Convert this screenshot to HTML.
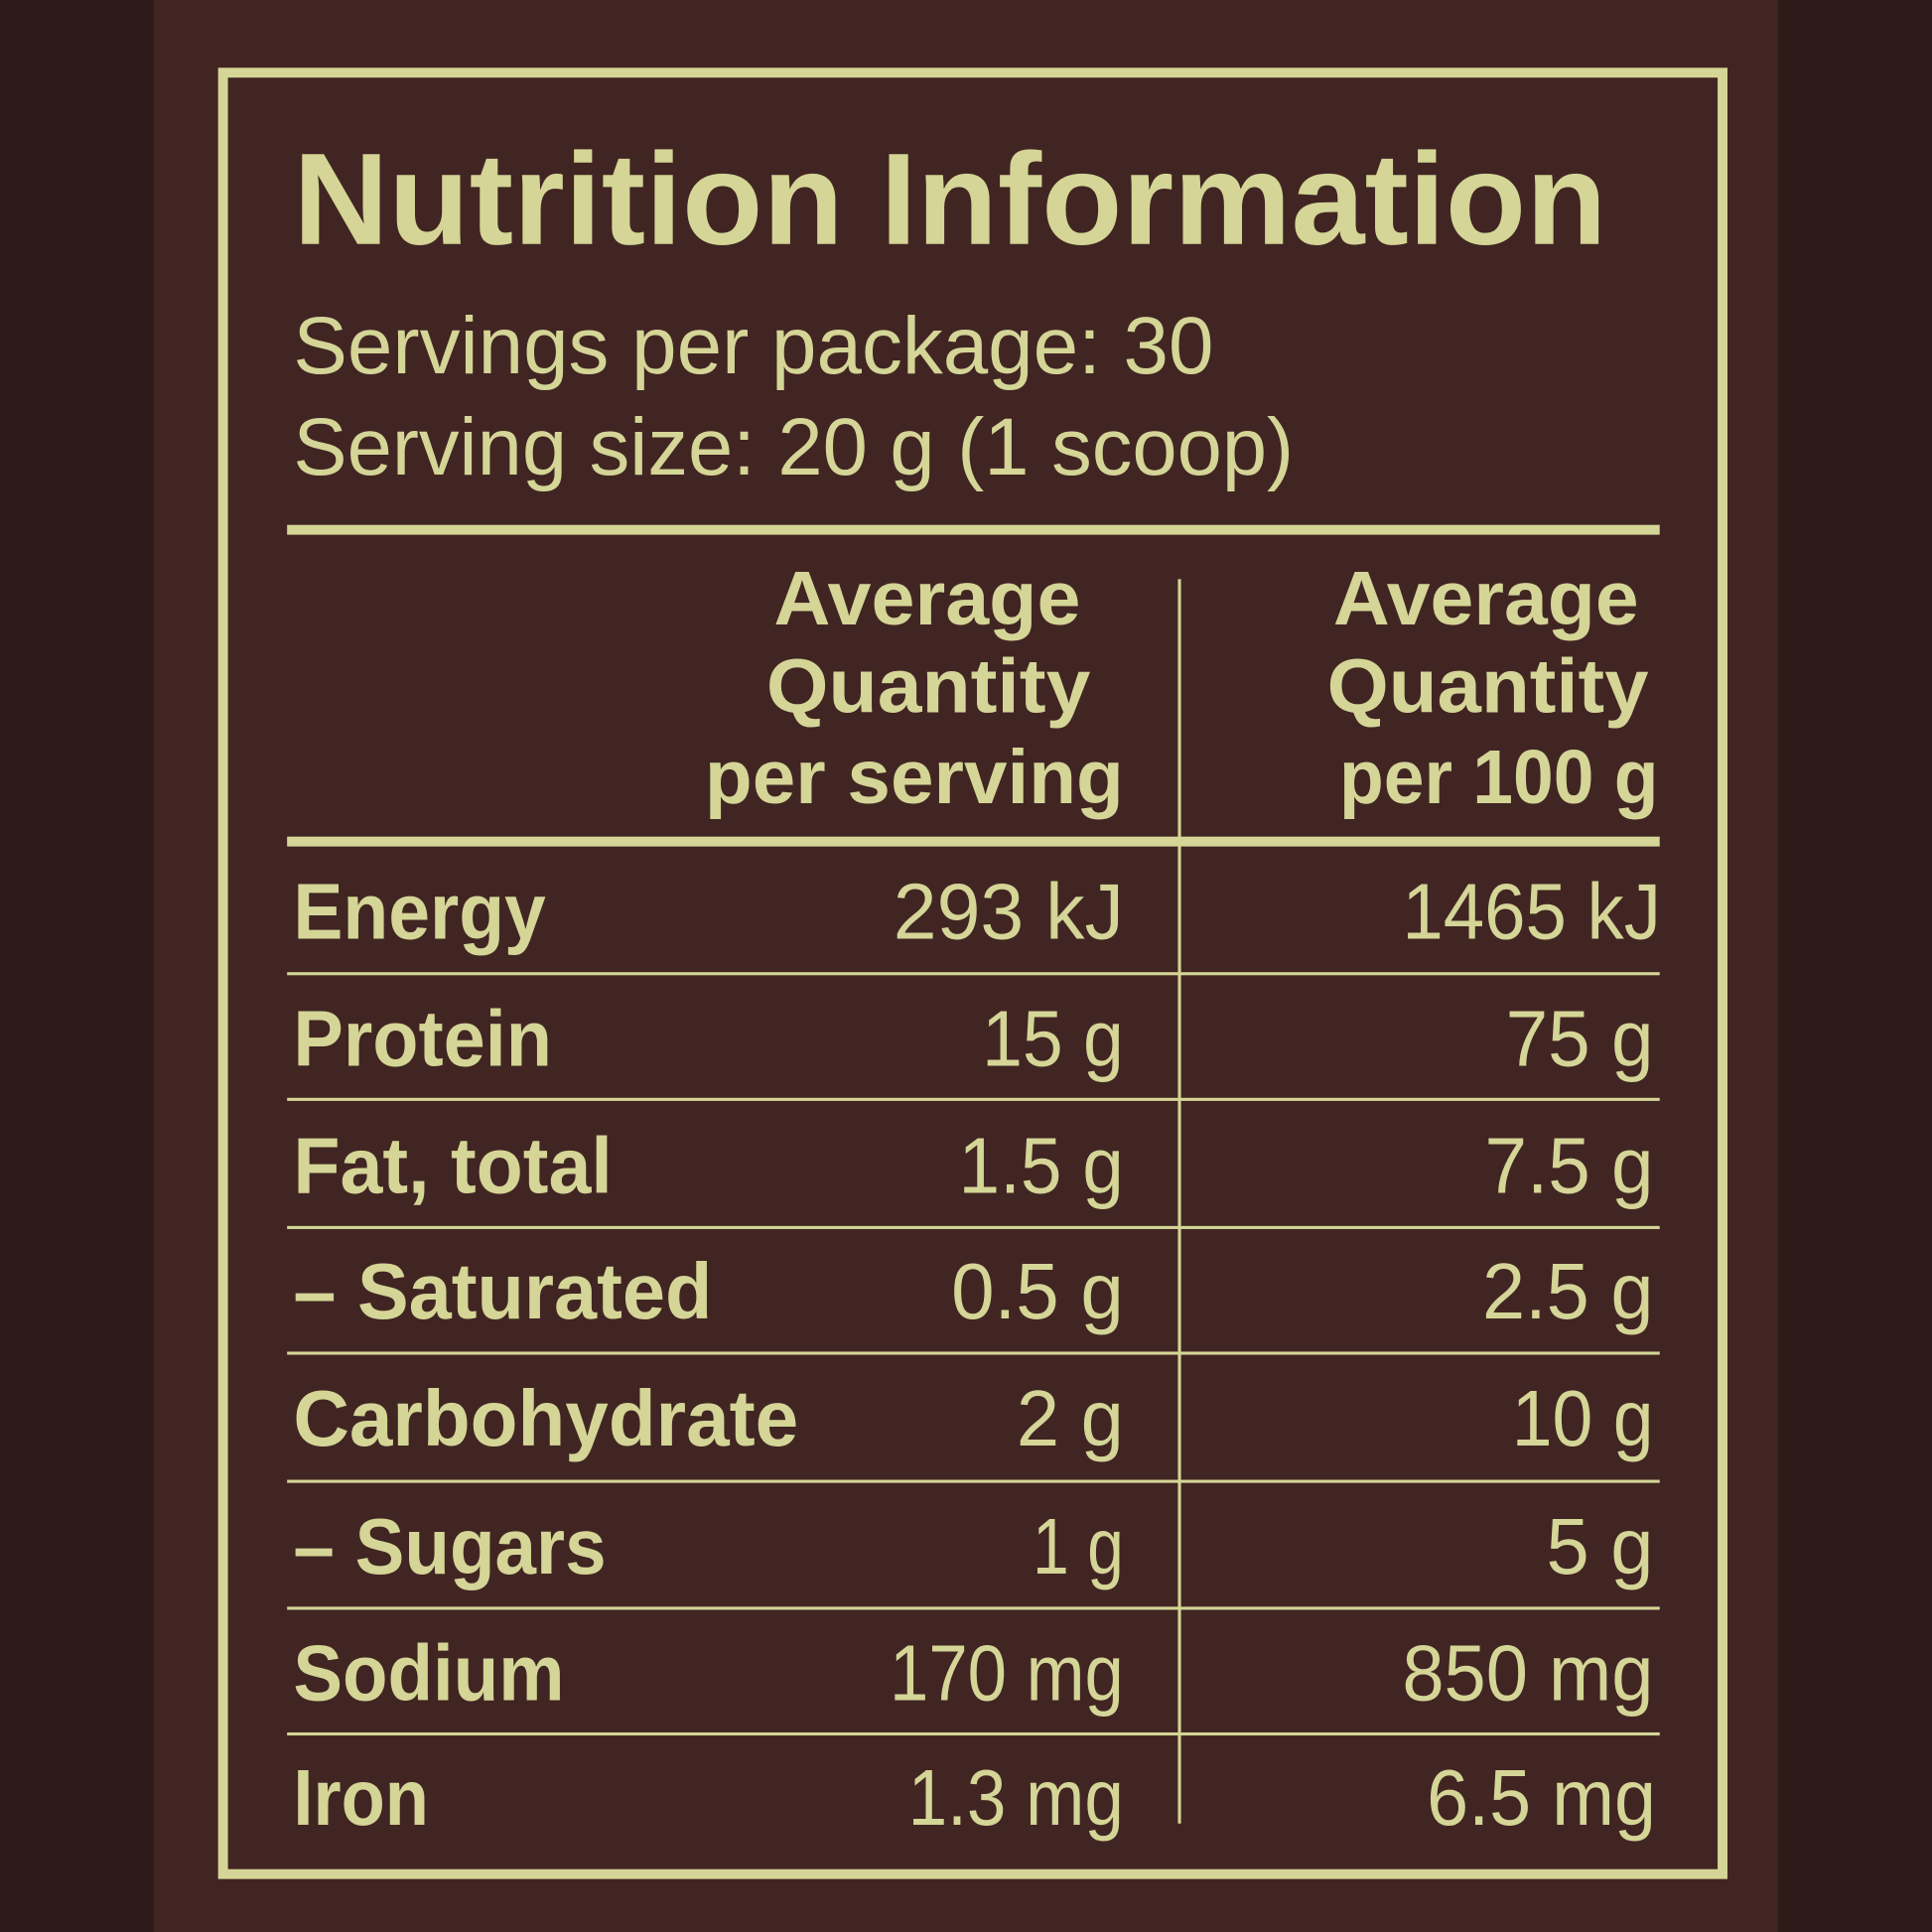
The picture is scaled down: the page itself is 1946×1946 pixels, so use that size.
<!DOCTYPE html>
<html><head><meta charset="utf-8"><style>
html,body{margin:0;padding:0;background:#2d1a19;}
svg{display:block}
text{font-family:"Liberation Sans",sans-serif;fill:#d4d596}
</style></head><body>
<svg width="1946" height="1946" viewBox="0 0 1568 1568" xmlns="http://www.w3.org/2000/svg">
<rect x="0" y="0" width="1568" height="1568" fill="#2d1a19"/>
<rect x="125" y="0" width="1318" height="1568" fill="#412523"/>
<rect x="181" y="59" width="1217" height="1462" fill="none" stroke="#d4d596" stroke-width="8"/>
<text x="238" y="198" font-size="106" font-weight="bold" textLength="1066" lengthAdjust="spacingAndGlyphs">Nutrition Information</text>
<text x="238" y="303" font-size="66" textLength="747" lengthAdjust="spacingAndGlyphs">Servings per package: 30</text>
<text x="238" y="385" font-size="66" textLength="812" lengthAdjust="spacingAndGlyphs">Serving size: 20 g (1 scoop)</text>
<rect x="233" y="426" width="1114" height="8" fill="#d4d596"/>
<g font-weight="bold" font-size="62">
<text x="628" y="507" textLength="249" lengthAdjust="spacingAndGlyphs">Average</text>
<text x="622" y="578" textLength="263" lengthAdjust="spacingAndGlyphs">Quantity</text>
<text x="572" y="652" textLength="340" lengthAdjust="spacingAndGlyphs">per serving</text>
<text x="1082" y="507" textLength="248" lengthAdjust="spacingAndGlyphs">Average</text>
<text x="1077" y="578" textLength="261" lengthAdjust="spacingAndGlyphs">Quantity</text>
<text x="1087" y="652" textLength="259" lengthAdjust="spacingAndGlyphs">per 100 g</text>
</g>
<rect x="956" y="470" width="2.5" height="1010" fill="#d4d596"/>
<rect x="233" y="679" width="1114" height="8" fill="#d4d596"/>
<g fill="#d4d596">
<rect x="233" y="789" width="1114" height="2.5"/>
<rect x="233" y="891" width="1114" height="2.5"/>
<rect x="233" y="995" width="1114" height="2.5"/>
<rect x="233" y="1097" width="1114" height="2.5"/>
<rect x="233" y="1201" width="1114" height="2.5"/>
<rect x="233" y="1304" width="1114" height="2.5"/>
<rect x="233" y="1406" width="1114" height="2.5"/>
</g>
<g font-size="64" font-weight="bold">
<text x="238" y="762" textLength="205" lengthAdjust="spacingAndGlyphs">Energy</text>
<text x="238" y="865" textLength="210" lengthAdjust="spacingAndGlyphs">Protein</text>
<text x="238" y="968" textLength="259" lengthAdjust="spacingAndGlyphs">Fat, total</text>
<text x="238" y="1070" textLength="340" lengthAdjust="spacingAndGlyphs">– Saturated</text>
<text x="238" y="1173" textLength="410" lengthAdjust="spacingAndGlyphs">Carbohydrate</text>
<text x="238" y="1277" textLength="254" lengthAdjust="spacingAndGlyphs">– Sugars</text>
<text x="238" y="1380" textLength="220" lengthAdjust="spacingAndGlyphs">Sodium</text>
<text x="238" y="1481" textLength="110" lengthAdjust="spacingAndGlyphs">Iron</text>
</g>
<g font-size="64">
<text x="725" y="762" textLength="187" lengthAdjust="spacingAndGlyphs">293 kJ</text>
<text x="797" y="865" textLength="115" lengthAdjust="spacingAndGlyphs">15 g</text>
<text x="778" y="968" textLength="134" lengthAdjust="spacingAndGlyphs">1.5 g</text>
<text x="772" y="1070" textLength="140" lengthAdjust="spacingAndGlyphs">0.5 g</text>
<text x="825" y="1173" textLength="87" lengthAdjust="spacingAndGlyphs">2 g</text>
<text x="838" y="1277" textLength="74" lengthAdjust="spacingAndGlyphs">1 g</text>
<text x="722" y="1380" textLength="190" lengthAdjust="spacingAndGlyphs">170 mg</text>
<text x="737" y="1481" textLength="175" lengthAdjust="spacingAndGlyphs">1.3 mg</text>
<text x="1138" y="762" textLength="210" lengthAdjust="spacingAndGlyphs">1465 kJ</text>
<text x="1222" y="865" textLength="120" lengthAdjust="spacingAndGlyphs">75 g</text>
<text x="1205" y="968" textLength="137" lengthAdjust="spacingAndGlyphs">7.5 g</text>
<text x="1203" y="1070" textLength="139" lengthAdjust="spacingAndGlyphs">2.5 g</text>
<text x="1227" y="1173" textLength="115" lengthAdjust="spacingAndGlyphs">10 g</text>
<text x="1255" y="1277" textLength="87" lengthAdjust="spacingAndGlyphs">5 g</text>
<text x="1138" y="1380" textLength="204" lengthAdjust="spacingAndGlyphs">850 mg</text>
<text x="1158" y="1481" textLength="186" lengthAdjust="spacingAndGlyphs">6.5 mg</text>
</g>
</svg>
</body></html>
